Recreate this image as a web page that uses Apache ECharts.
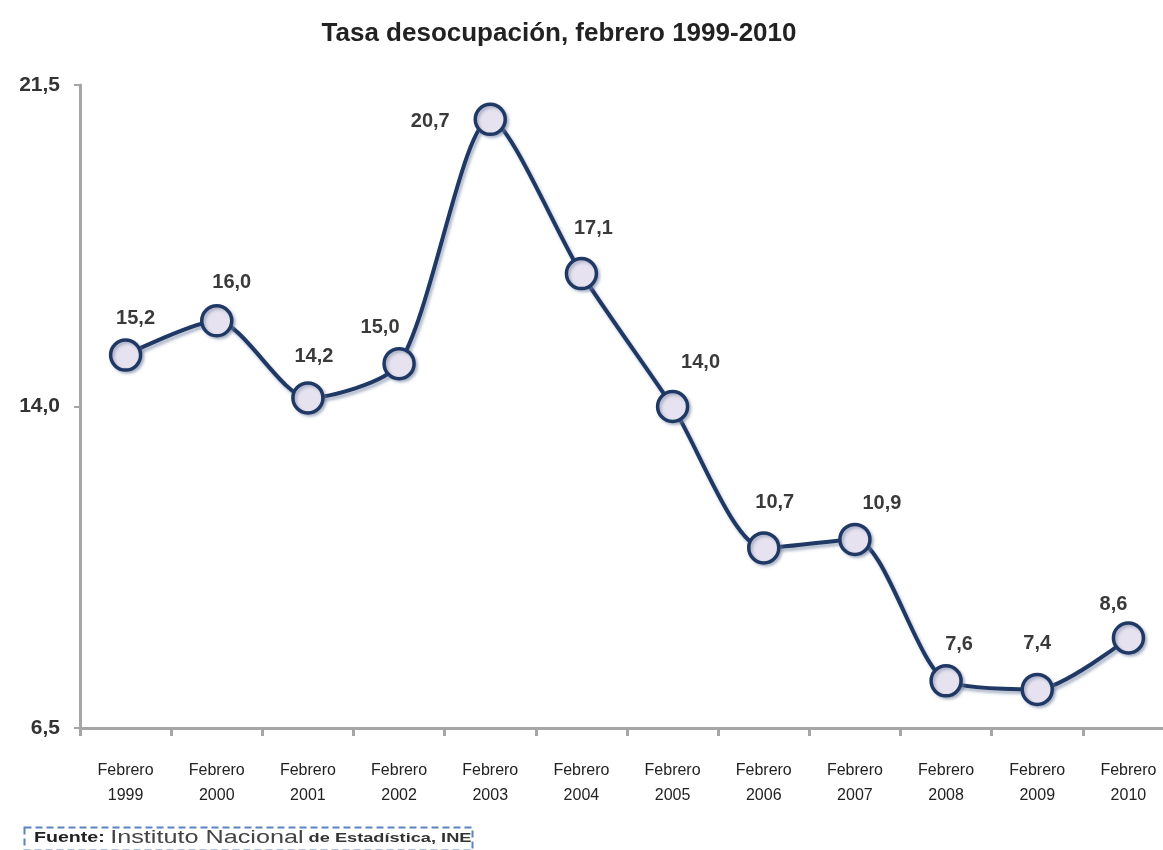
<!DOCTYPE html>
<html>
<head>
<meta charset="utf-8">
<script src="https://cdn.jsdelivr.net/npm/echarts@6/dist/echarts.min.js"></script>
<style>
    html, body { margin: 0; padding: 0; background: #fff; overflow: hidden; }
    /* un poco más ancho que la ventana: el eje x sigue hasta el borde derecho */
    #chart { width: 1175px; height: 850px; }
</style>
</head>
<body>
<div id="chart"></div>
<script>
// datos
const years = ['1999', '2000', '2001', '2002', '2003', '2004', '2005', '2006', '2007', '2008', '2009', '2010'];
const tasa = [15.2, 16.0, 14.2, 15.0, 20.7, 17.1, 14.0, 10.7, 10.9, 7.6, 7.4, 8.6];
const yTicks = [6.5, 14.0, 21.5];

// desplazamiento de cada etiqueta respecto a su punto
const labelOffsets = [
    [10, 2], [15, 0], [6, -3], [-19, 3], [-60, 41], [12, -6],
    [28, -5], [11, -7], [27, 3], [13, 2], [0, -7], [-15, 5]
];

let chart = echarts.init(document.getElementById('chart'));

let option = {
    backgroundColor: '#fff',
    title: {
        text: 'Tasa desocupación, febrero 1999-2010',
        left: 554,
        textAlign: 'center',
        top: 16,
        textStyle: {
            fontFamily: 'Liberation Sans',
            fontSize: 26,
            fontWeight: 'bold',
            color: '#222'
        }
    },
    grid: {
        left: 80,
        top: 85,
        width: 1094,
        bottom: 122
    },
    xAxis: {
        type: 'category',
        data: years.map((y) => 'Febrero\n' + y),
        boundaryGap: true,
        axisLine: { lineStyle: { color: '#a6a6a6', width: 3 } },
        axisTick: { show: true, length: 8, lineStyle: { color: '#a6a6a6', width: 3 } },
        axisLabel: {
            margin: 30,
            interval: 0,
            fontFamily: 'Liberation Sans',
            fontSize: 16,
            lineHeight: 25,
            color: '#222'
        }
    },
    yAxis: {
        type: 'value',
        min: yTicks[0],
        max: yTicks[yTicks.length - 1],
        interval: yTicks[1] - yTicks[0],
        splitLine: { show: false },
        axisLine: { show: true, lineStyle: { color: '#a6a6a6', width: 3 } },
        axisTick: { show: true, length: 6, lineStyle: { color: '#a6a6a6', width: 2 } },
        axisLabel: {
            margin: 20,
            fontFamily: 'Liberation Sans',
            fontSize: 21,
            fontWeight: 'bold',
            color: '#333',
            formatter: (v) => v.toFixed(1).replace('.', ',')
        }
    },
    series: [
        {
            type: 'line',
            data: tasa.map((v, i) => ({
                value: v,
                label: { offset: labelOffsets[i] }
            })),
            smooth: 0.25,
            symbol: 'circle',
            symbolSize: 30,
            lineStyle: {
                color: '#1f3864',
                width: 4,
                shadowColor: 'rgba(110,125,160,0.55)',
                shadowBlur: 3,
                shadowOffsetX: 2,
                shadowOffsetY: 3
            },
            itemStyle: {
                color: '#e6e2ef',
                borderColor: '#1f3864',
                borderWidth: 3.5,
                shadowColor: 'rgba(110,125,160,0.5)',
                shadowBlur: 3,
                shadowOffsetX: 2,
                shadowOffsetY: 2
            },
            label: {
                show: true,
                position: 'top',
                distance: 12,
                fontFamily: 'Liberation Sans',
                fontSize: 20,
                fontWeight: 'bold',
                color: '#3a3a3a',
                formatter: (p) => p.value.toFixed(1).replace('.', ',')
            },
            z: 3
        }
    ],
    graphic: [
        {
            type: 'rect',
            left: 22,
            top: 825,
            shape: { width: 448, height: 23 },
            style: {
                fill: 'none',
                stroke: '#5b84c4',
                lineWidth: 2,
                lineDash: [7, 4]
            }
        },
        {
            type: 'text',
            x: 34,
            y: 829,
            scaleX: 1.4,
            style: {
                text: '{a|Fuente: }{b|Instituto Nacional}{c| de Estadística, INE}',
                rich: {
                    a: { fontFamily: 'Liberation Sans', fontSize: 14, fontWeight: 'bold', fill: '#222' },
                    b: { fontFamily: 'Liberation Sans', fontSize: 18, fill: '#444' },
                    c: { fontFamily: 'Liberation Sans', fontSize: 13, fontWeight: 'bold', fill: '#333' }
                }
            }
        }
    ]
};

chart.setOption(option);
</script>
</body>
</html>
